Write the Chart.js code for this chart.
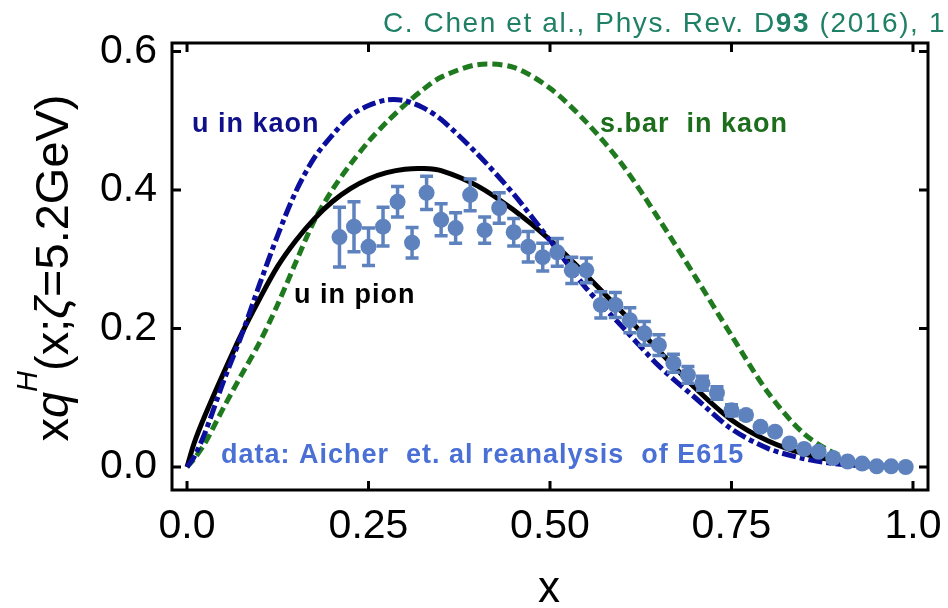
<!DOCTYPE html>
<html>
<head>
<meta charset="utf-8">
<script src="https://cdn.jsdelivr.net/npm/chart.js@4.4.0/dist/chart.umd.min.js"></script>
<style>
  html, body { margin: 0; padding: 0; background: #ffffff; }
  #wrap { width: 948px; height: 608px; position: relative; }
</style>
</head>
<body>
<div id="wrap"><canvas id="chart" width="948" height="608"></canvas></div>
<script>
// Momentum fraction grid shared by the three model curves
const curveX = [0, 0.01, 0.025, 0.05, 0.075, 0.1, 0.125, 0.15, 0.175, 0.2, 0.225, 0.25, 0.275, 0.3,
                0.325, 0.35, 0.4, 0.45, 0.5, 0.55, 0.6, 0.65, 0.7, 0.75, 0.8, 0.85, 0.9, 0.95, 1.0];

// x q(x) for the u quark in the pion
const pionU = [0, 0.035, 0.075, 0.135, 0.192, 0.243, 0.290, 0.327, 0.358, 0.383, 0.402, 0.416, 0.425, 0.430,
               0.431, 0.428, 0.406, 0.371, 0.328, 0.277, 0.223, 0.168, 0.114, 0.068, 0.038, 0.019, 0.008, 0.002, 0];

// x q(x) for the u quark in the kaon
const kaonU = [0, 0.015, 0.050, 0.123, 0.190, 0.264, 0.335, 0.398, 0.446, 0.479, 0.507, 0.522, 0.530, 0.529,
               0.519, 0.502, 0.452, 0.394, 0.327, 0.258, 0.202, 0.146, 0.100, 0.055, 0.027, 0.012, 0.004, 0.001, 0];

// x q(x) for the s-bar quark in the kaon
const kaonSbar = [0, 0.012, 0.035, 0.085, 0.133, 0.180, 0.235, 0.296, 0.355, 0.400, 0.437, 0.470, 0.498, 0.523,
                  0.545, 0.563, 0.581, 0.577, 0.547, 0.498, 0.436, 0.358, 0.275, 0.190, 0.108, 0.048, 0.016, 0.003, 0];

// E615 reanalysis points (Aicher et al.)
const dataX = [0.21, 0.23, 0.25, 0.27, 0.29, 0.31, 0.33, 0.35, 0.37, 0.39, 0.41, 0.43, 0.45, 0.47, 0.49, 0.51,
               0.53, 0.55, 0.57, 0.59, 0.61, 0.63, 0.65, 0.67, 0.69, 0.71, 0.73, 0.75, 0.77, 0.79, 0.81, 0.83,
               0.85, 0.87, 0.89, 0.91, 0.93, 0.95, 0.97, 0.99];
const dataY = [0.332, 0.347, 0.318, 0.347, 0.383, 0.324, 0.396, 0.357, 0.345, 0.393, 0.342, 0.374, 0.339, 0.318, 0.303, 0.310,
               0.284, 0.284, 0.234, 0.234, 0.212, 0.193, 0.176, 0.150, 0.133, 0.121, 0.107, 0.082, 0.075, 0.058, 0.051, 0.034,
               0.026, 0.022, 0.013, 0.008, 0.005, 0.001, 0.001, 0.000];
const dataErr = [0.043, 0.036, 0.027, 0.028, 0.022, 0.022, 0.024, 0.023, 0.022, 0.023, 0.019, 0.022, 0.020, 0.022, 0.020, 0.020,
                 0.019, 0.018, 0.019, 0.018, 0.018, 0.017, 0.015, 0.013, 0.012, 0.010, 0.009, 0.008, 0.006, 0.005, 0.004, 0.003,
                 0.003, 0.002, 0.002, 0.001, 0.001, 0.001, 0.001, 0.001];

// Axis ticks
const xTicks = [0, 0.25, 0.5, 0.75, 1.0];
const xTickLabels = ['0.0', '0.25', '0.50', '0.75', '1.0'];
const yTicks = [0, 0.2, 0.4, 0.6];
const yTickLabels = ['0.0', '0.2', '0.4', '0.6'];

const FONT = '"Liberation Sans", Arial, sans-serif';
const C_BLACK = '#000000';
const C_BLUE = '#0b0f9c';
const C_GREEN = '#1f7a1f';
const C_DATA = '#5e82bd';

const toPoints = (xs, ys) => xs.map((x, i) => ({ x: x, y: ys[i] }));

// Error bars, frame, inward ticks and annotation text
const decorations = {
  id: 'decorations',
  beforeDatasetDraw(chart, args) {
    if (args.index !== 0) return;
    const xs = chart.scales.x, ys = chart.scales.y, ctx = chart.ctx;
    ctx.save();
    ctx.strokeStyle = C_DATA;
    ctx.lineWidth = 3.5;
    dataX.forEach((x, i) => {
      const px = xs.getPixelForValue(x);
      const top = ys.getPixelForValue(dataY[i] + dataErr[i]);
      const bot = ys.getPixelForValue(dataY[i] - dataErr[i]);
      ctx.beginPath();
      ctx.moveTo(px, top); ctx.lineTo(px, bot);
      ctx.moveTo(px - 6.5, top); ctx.lineTo(px + 6.5, top);
      ctx.moveTo(px - 6.5, bot); ctx.lineTo(px + 6.5, bot);
      ctx.stroke();
    });
    ctx.restore();
  },
  afterDraw(chart) {
    const ctx = chart.ctx, a = chart.chartArea;
    const xs = chart.scales.x, ys = chart.scales.y;
    ctx.save();
    // frame
    ctx.strokeStyle = '#000';
    ctx.lineWidth = 3;
    ctx.strokeRect(a.left, a.top, a.right - a.left, a.bottom - a.top);
    // inward ticks on all four sides
    ctx.beginPath();
    xTicks.forEach(v => {
      const px = xs.getPixelForValue(v);
      ctx.moveTo(px, a.bottom); ctx.lineTo(px, a.bottom - 9);
      ctx.moveTo(px, a.top); ctx.lineTo(px, a.top + 9);
    });
    yTicks.forEach(v => {
      const py = ys.getPixelForValue(v);
      ctx.moveTo(a.left, py); ctx.lineTo(a.left + 9, py);
      ctx.moveTo(a.right, py); ctx.lineTo(a.right - 9, py);
    });
    ctx.stroke();

    // curve and data labels
    ctx.textBaseline = 'alphabetic';
    ctx.textAlign = 'left';
    ctx.font = 'bold 27px ' + FONT;
    ctx.letterSpacing = '1px';
    ctx.fillStyle = '#10108a';
    ctx.fillText('u in kaon', 192, 132);
    ctx.fillStyle = '#1c6e1c';
    ctx.fillText('s.bar  in kaon', 600, 132);
    ctx.fillStyle = '#000';
    ctx.fillText('u in pion', 294, 303);
    ctx.fillStyle = '#4a70d6';
    ctx.fillText('data: Aicher  et. al reanalysis  of E615', 221, 463);

    // citation line
    ctx.fillStyle = '#208066';
    ctx.letterSpacing = '1.6px';
    let tx = 383;
    const parts = [['C. Chen et al., Phys. Rev. D', 'normal'], ['93', 'bold'], [' (2016), 1', 'normal']];
    parts.forEach(p => {
      ctx.font = p[1] + ' 28px ' + FONT;
      ctx.fillText(p[0], tx, 32);
      tx += ctx.measureText(p[0]).width;
    });
    ctx.letterSpacing = '0px';

    // y axis title, rotated
    const segs = [
      ['x', 'normal 47px', 0], ['q', 'italic 47px', 0], ['H', 'italic 29px', -31],
      ['(x;', 'normal 47px', 0], ['\u03B6', 'italic 47px', 0], ['=5.2GeV)', 'normal 47px', 0]
    ];
    let total = 0;
    segs.forEach(s => { ctx.font = s[1] + ' ' + FONT; total += ctx.measureText(s[0]).width; });
    ctx.translate(68, 268);
    ctx.rotate(-Math.PI / 2);
    ctx.fillStyle = '#000';
    let sx = -total / 2;
    segs.forEach(s => {
      ctx.font = s[1] + ' ' + FONT;
      ctx.fillText(s[0], sx, s[2]);
      sx += ctx.measureText(s[0]).width;
    });
    ctx.setTransform(1, 0, 0, 1, 0, 0);

    // x axis title
    ctx.font = 'normal 44px ' + FONT;
    ctx.textAlign = 'center';
    ctx.fillText('x', 549, 602);
    ctx.restore();
  }
};

new Chart(document.getElementById('chart'), {
  type: 'scatter',
  data: {
    datasets: [
      {
        label: 'data: Aicher et. al reanalysis of E615',
        data: toPoints(dataX, dataY),
        backgroundColor: C_DATA,
        borderColor: C_DATA,
        pointRadius: 8,
        pointBorderWidth: 0,
        showLine: false
      },
      {
        label: 'u in kaon',
        data: toPoints(curveX, kaonU),
        showLine: true,
        borderColor: C_BLUE,
        borderWidth: 5,
        borderDash: [14, 4, 5, 4],
        pointRadius: 0,
        tension: 0.3,
        fill: false
      },
      {
        label: 'u in pion',
        data: toPoints(curveX, pionU),
        showLine: true,
        borderColor: C_BLACK,
        borderWidth: 5,
        pointRadius: 0,
        tension: 0.3,
        fill: false
      },
      {
        label: 's.bar in kaon',
        data: toPoints(curveX, kaonSbar),
        showLine: true,
        borderColor: C_GREEN,
        borderWidth: 5,
        borderDash: [10, 5],
        pointRadius: 0,
        tension: 0.3,
        fill: false
      }
    ]
  },
  options: {
    responsive: false,
    animation: false,
    events: [],
    layout: { padding: { top: 43, right: 20, left: 0, bottom: 0 } },
    plugins: { legend: { display: false }, tooltip: { enabled: false } },
    scales: {
      x: {
        type: 'linear',
        min: -0.0207,
        max: 1.0207,
        border: { display: false },
        grid: { display: false },
        afterFit(scale) { scale.height = 118; },
        afterBuildTicks(scale) { scale.ticks = xTicks.map(v => ({ value: v })); },
        ticks: {
          color: '#000',
          padding: 4,
          maxRotation: 0,
          autoSkip: false,
          font: { family: FONT, size: 41 },
          callback: (v) => { const i = xTicks.indexOf(v); return i >= 0 ? xTickLabels[i] : ''; }
        }
      },
      y: {
        type: 'linear',
        min: -0.0332,
        max: 0.6123,
        border: { display: false },
        grid: { display: false },
        afterFit(scale) { scale.width = 172; },
        afterBuildTicks(scale) { scale.ticks = yTicks.map(v => ({ value: v })); },
        ticks: {
          color: '#000',
          padding: 7,
          autoSkip: false,
          font: { family: FONT, size: 41 },
          callback: (v) => { const i = yTicks.indexOf(v); return i >= 0 ? yTickLabels[i] : ''; }
        }
      }
    }
  },
  plugins: [decorations]
});
</script>
</body>
</html>
